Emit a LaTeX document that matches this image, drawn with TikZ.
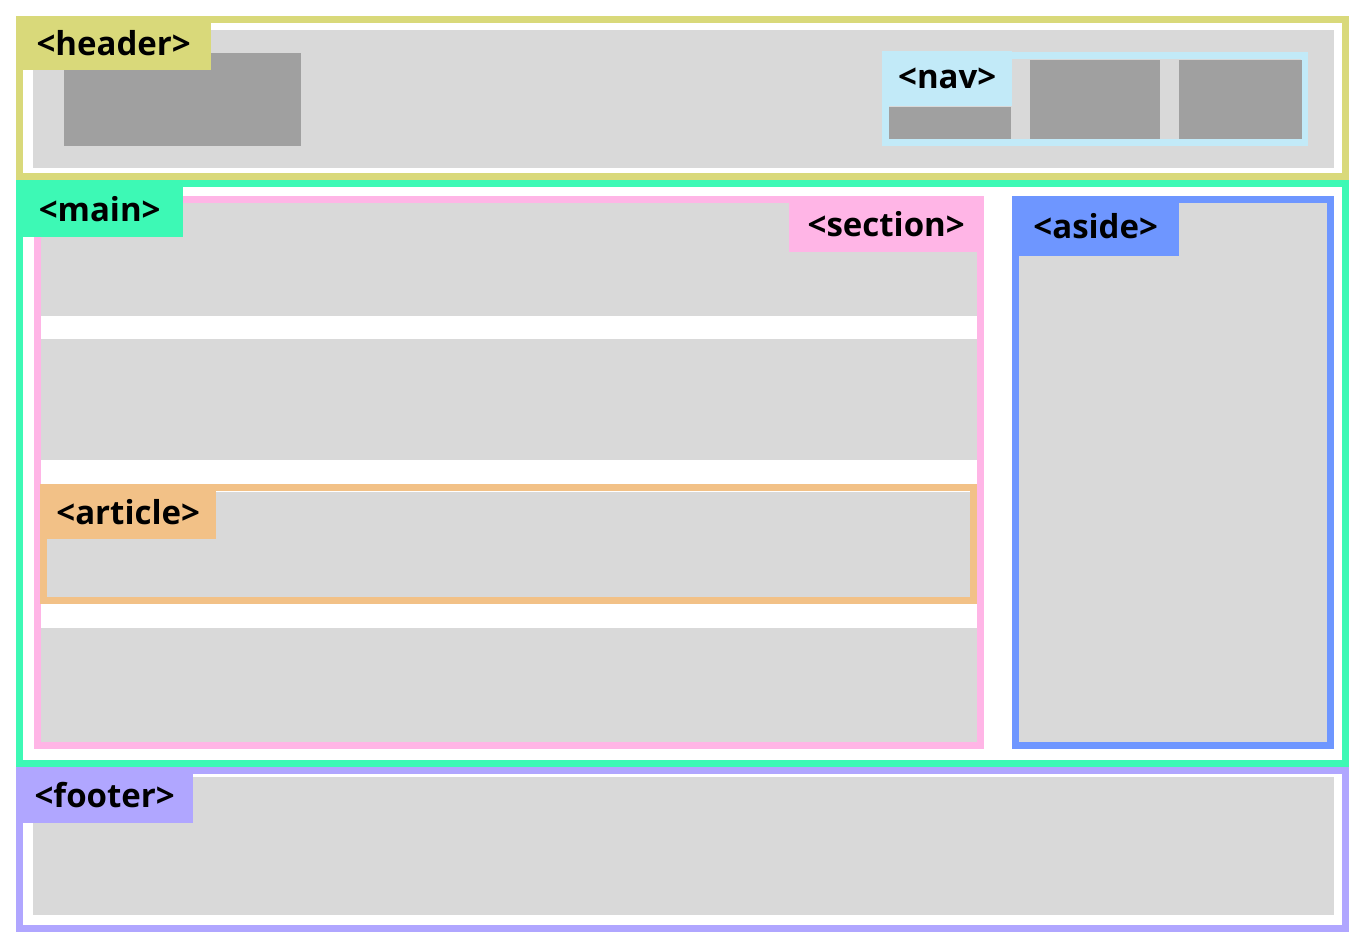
\documentclass[tikz,border=0pt]{standalone}
\usepackage{fontspec}
\setmainfont{Open Sans}
\usepackage{tikz}

\definecolor{headercol}{HTML}{D9D97A}
\definecolor{navcol}{HTML}{C2EAF8}
\definecolor{maincol}{HTML}{3DF9B5}
\definecolor{sectioncol}{HTML}{FFB5E6}
\definecolor{articlecol}{HTML}{F2C187}
\definecolor{asidecol}{HTML}{6E96FF}
\definecolor{footercol}{HTML}{B0A6FF}
\definecolor{boxgray}{HTML}{D9D9D9}
\definecolor{itemgray}{HTML}{A0A0A0}

\begin{document}
\begin{tikzpicture}[x=1pt,y=-1pt]
\tikzstyle{tag}=[anchor=north west,inner sep=0pt,font=\fontsize{33}{37}\selectfont\bfseries]
\tikzstyle{frame}=[line width=7pt]
\tikzstyle{block}=[fill=boxgray]
\tikzstyle{item}=[fill=itemgray]
\useasboundingbox[fill=white] (0,0) rectangle (1362,944);

% header
\fill[block] (33,30) rectangle (1334,168);
\draw[frame,headercol] (19.5,19.5) rectangle (1345.5,176.5);
\fill[item] (64,53) rectangle (301,146);
\node[tag,fill=headercol,minimum width=195pt,minimum height=54pt] (headertag) at (16,16) {<header>};

% nav
\draw[frame,navcol] (885.5,55.5) rectangle (1304.5,142.5);
\fill[item] (889,107) rectangle (1011,139);
\fill[item] (1030,60) rectangle (1160,139);
\fill[item] (1179,60) rectangle (1302,139);
\node[tag,fill=navcol,minimum width=130pt,minimum height=55pt] (navtag) at (882,51) {<nav>};

% main
\draw[frame,maincol] (19.5,183.5) rectangle (1345.5,763.5);

% section
\fill[block] (40,203) rectangle (977,316);
\fill[block] (40,339) rectangle (977,460);
\fill[block] (40,628) rectangle (977,743);
\draw[frame,sectioncol] (37,199.5) rectangle (980,745.5);
\node[tag,fill=sectioncol,minimum width=194pt,minimum height=56pt] (sectiontag) at (789,196) {<section>};

% article
\fill[block] (47,492) rectangle (970,598);
\draw[frame,articlecol] (43.5,487.5) rectangle (973.5,600.5);
\node[tag,fill=articlecol,minimum width=176pt,minimum height=55pt] (articletag) at (40,484) {<article>};

% aside
\fill[block] (1019,203) rectangle (1327,742);
\draw[frame,asidecol] (1015.5,199.5) rectangle (1330.5,745.5);
\node[tag,fill=asidecol,minimum width=167pt,minimum height=60pt] (asidetag) at (1012,196) {<aside>};

% main tag on top of section
\node[tag,fill=maincol,minimum width=167pt,minimum height=57pt] (maintag) at (16,180) {<main>};

% footer
\fill[block] (33,777) rectangle (1334,915);
\draw[frame,footercol] (19.5,770.5) rectangle (1345.5,928.5);
\node[tag,fill=footercol,minimum width=177pt,minimum height=56pt] (footertag) at (16,767) {<footer>};
\end{tikzpicture}
\end{document}
